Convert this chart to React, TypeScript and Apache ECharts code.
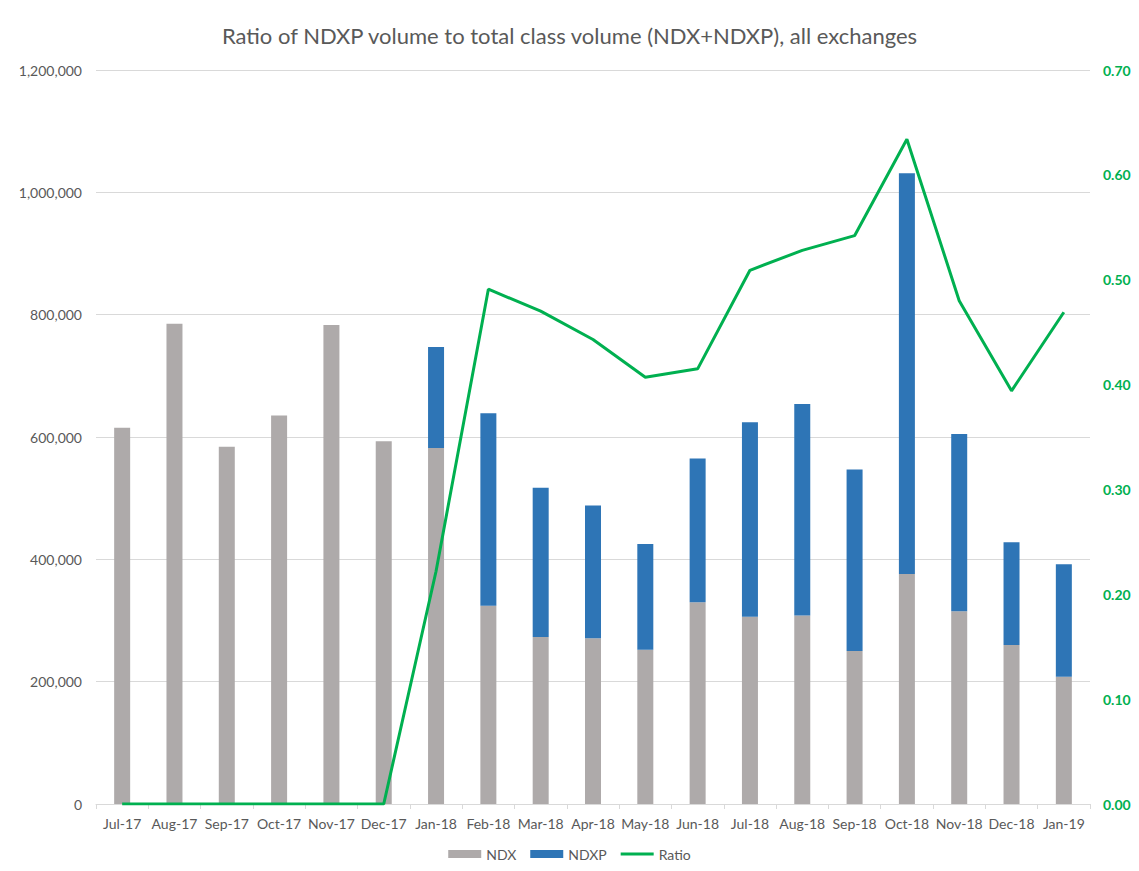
import React, { useEffect, useRef } from "react";
import * as echarts from "echarts";

const categories = ["Jul-17","Aug-17","Sep-17","Oct-17","Nov-17","Dec-17","Jan-18","Feb-18","Mar-18","Apr-18","May-18","Jun-18","Jul-18","Aug-18","Sep-18","Oct-18","Nov-18","Dec-18","Jan-19"];
const ndx = [615000,785000,584000,635000,783000,593000,582000,324000,273000,271000,252000,330000,306000,308000,250000,376000,315000,260000,208000];
const ndxp = [0,0,0,0,0,0,165000,315000,244000,217000,173000,235000,318000,346000,297000,655000,290000,168000,184000];
const ratio = [0,0,0,0,0,0,0.222,0.491,0.470,0.443,0.407,0.415,0.509,0.528,0.542,0.634,0.480,0.394,0.469];

const TITLE = "Ratio of NDXP volume to total class volume (NDX+NDXP), all exchanges";
const FONT = "Lato, 'Open Sans', sans-serif";
const LINE_ICON = "path://M0,0L0.01,0L0,0.01Z M0,2.5L33,2.5L33,5.5L0,5.5Z M33,8L32.99,8L33,7.99Z";

export default function App() {
  const ref = useRef<HTMLDivElement>(null);
  useEffect(() => {
    document.body.style.margin = "0";
    const chart = echarts.init(ref.current!, null, { renderer: "svg" });
    chart.setOption({
      animation: false,
      backgroundColor: "#ffffff",
      textStyle: { fontFamily: FONT },
      title: {
        text: TITLE,
        left: "center",
        top: 19,
        textStyle: { fontFamily: FONT, fontSize: 22, fontWeight: "normal", color: "#595959" },
      },
      grid: { left: 96, right: 49, top: 70, bottom: 67, containLabel: false },
      legend: {
        bottom: 5,
        left: "center",
        itemGap: 14,
        itemWidth: 33,
        itemHeight: 8,
        textStyle: { fontFamily: FONT, fontSize: 14, color: "#595959" },
        data: [
          { name: "NDX", icon: "rect" },
          { name: "NDXP", icon: "rect" },
          { name: "Ratio", icon: LINE_ICON, itemStyle: { color: "#00B050", borderWidth: 0 } },
        ],
      },
      xAxis: {
        type: "category",
        data: categories,
        axisLine: { lineStyle: { color: "#d9d9d9", width: 1 } },
        axisTick: { show: true, alignWithLabel: false, length: 5, lineStyle: { color: "#d9d9d9" } },
        axisLabel: { color: "#595959", fontSize: 14, margin: 12, interval: 0, fontFamily: FONT },
      },
      yAxis: [
        {
          type: "value",
          min: 0,
          max: 1200000,
          interval: 200000,
          axisLine: { show: false },
          axisTick: { show: false },
          splitLine: { lineStyle: { color: "#d9d9d9", width: 1 } },
          axisLabel: {
            color: "#595959",
            fontSize: 14,
            margin: 14,
            fontFamily: FONT,
            formatter: (v: number) => v.toLocaleString("en-US"),
          },
        },
        {
          type: "value",
          min: 0,
          max: 0.7,
          interval: 0.1,
          position: "right",
          axisLine: { show: false },
          axisTick: { show: false },
          splitLine: { show: false },
          axisLabel: {
            color: "#00B050",
            fontSize: 14,
            fontWeight: "bold",
            margin: 13,
            fontFamily: FONT,
            formatter: (v: number) => v.toFixed(2),
          },
        },
      ],
      series: [
        {
          name: "NDX",
          type: "bar",
          stack: "vol",
          barWidth: 16,
          data: ndx,
          itemStyle: { color: "#AEAAAA" },
        },
        {
          name: "NDXP",
          type: "bar",
          stack: "vol",
          barWidth: 16,
          data: ndxp,
          itemStyle: { color: "#2E75B6" },
        },
        {
          name: "Ratio",
          type: "line",
          yAxisIndex: 1,
          data: ratio,
          symbol: "none",
          lineStyle: { color: "#00B050", width: 3 },
          itemStyle: { color: "#00B050" },
          z: 5,
        },
      ],
    });
    return () => chart.dispose();
  }, []);
  return <div ref={ref} style={{ width: 1139, height: 871 }} />;
}
